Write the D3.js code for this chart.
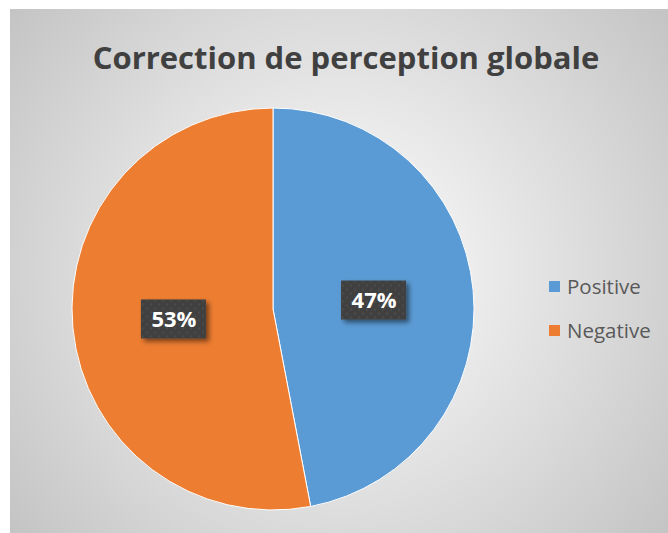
<!DOCTYPE html>
<html>
<head>
<meta charset="utf-8">
<script src="https://cdn.jsdelivr.net/npm/d3@7"></script>
<style>
  body { margin: 0; background: #fff; }
  svg { display: block; }
</style>
</head>
<body>
<svg id="chart" width="668" height="533"></svg>
<script>
const categories = ["Positive", "Negative"];
const values = [47, 53];
const colors = ["#5B9BD5", "#ED7D31"];
const title = "Correction de perception globale";

(() => {
    let svg = d3.select("svg#chart"),
        cx = 273, cy = 309, radius = 201,
        z = d3.scaleOrdinal().domain(categories).range(colors);

    let defs = svg.append("defs");
    let grad = defs.append("radialGradient")
        .attr("id", "bg")
        .attr("gradientUnits", "userSpaceOnUse")
        .attr("cx", 339).attr("cy", 271).attr("r", 420);
    grad.append("stop").attr("offset", "0%").attr("stop-color", "#ffffff");
    grad.append("stop").attr("offset", "100%").attr("stop-color", "#c4c4c4");

    let pat = defs.append("pattern")
        .attr("id", "dots")
        .attr("patternUnits", "userSpaceOnUse")
        .attr("width", 8).attr("height", 8);
    pat.append("rect").attr("width", 8).attr("height", 8).attr("fill", "#404040");
    pat.append("circle").attr("cx", 2).attr("cy", 2).attr("r", 1.1).attr("fill", "#4d4d4d");
    pat.append("circle").attr("cx", 6).attr("cy", 6).attr("r", 1.1).attr("fill", "#4d4d4d");

    let shadow = defs.append("filter").attr("id", "shadow")
        .attr("x", "-30%").attr("y", "-30%").attr("width", "160%").attr("height", "160%");
    shadow.append("feDropShadow")
        .attr("dx", 3).attr("dy", 3).attr("stdDeviation", 2.5)
        .attr("flood-color", "#000").attr("flood-opacity", 0.5);

    svg.append("rect")
        .attr("x", 10).attr("y", 9)
        .attr("width", 668).attr("height", 533)
        .attr("fill", "url(#bg)");

    svg.append("text")
        .attr("x", 346).attr("y", 69)
        .attr("text-anchor", "middle")
        .attr("font-family", "'Open Sans', sans-serif")
        .attr("font-weight", "bold")
        .attr("font-size", 31)
        .attr("fill", "#404040")
        .text(title);

    let pie = d3.pie().sort(null).value((d, i) => values[i]);
    let arcs = pie(categories);
    let arc = d3.arc().innerRadius(0).outerRadius(radius);

    let g = svg.append("g").attr("transform", "translate(" + cx + "," + cy + ")");

    g.selectAll("path")
        .data(arcs)
        .enter().append("path")
        .attr("d", arc)
        .attr("fill", (d) => z(d.data))
        .attr("stroke", "#ffffff")
        .attr("stroke-width", 1);

    let labels = g.selectAll(".label")
        .data(arcs)
        .enter().append("g")
        .attr("class", "label")
        .attr("transform", (d) => "translate(" + arc.centroid(d) + ")");

    labels.append("rect")
        .attr("x", -32).attr("y", -19)
        .attr("width", 65).attr("height", 39)
        .attr("fill", "url(#dots)")
        .attr("filter", "url(#shadow)");

    labels.append("text")
        .attr("x", 1)
        .attr("text-anchor", "middle")
        .attr("dy", "0.4em")
        .attr("font-family", "'Open Sans', sans-serif")
        .attr("font-weight", "bold")
        .attr("font-size", 22)
        .attr("fill", "#ffffff")
        .text((d) => d.value + "%");

    let legend = svg.selectAll(".legend")
        .data(categories)
        .enter().append("g")
        .attr("class", "legend")
        .attr("transform", (d, i) => "translate(549," + (281 + i * 44) + ")");

    legend.append("rect")
        .attr("width", 11).attr("height", 11)
        .attr("fill", z);

    legend.append("text")
        .attr("x", 18).attr("y", 5.5)
        .attr("dy", "0.35em")
        .attr("font-family", "'Open Sans', sans-serif")
        .attr("font-size", 20.5)
        .attr("fill", "#595959")
        .text((d) => d);
})();
</script>
</body>
</html>
